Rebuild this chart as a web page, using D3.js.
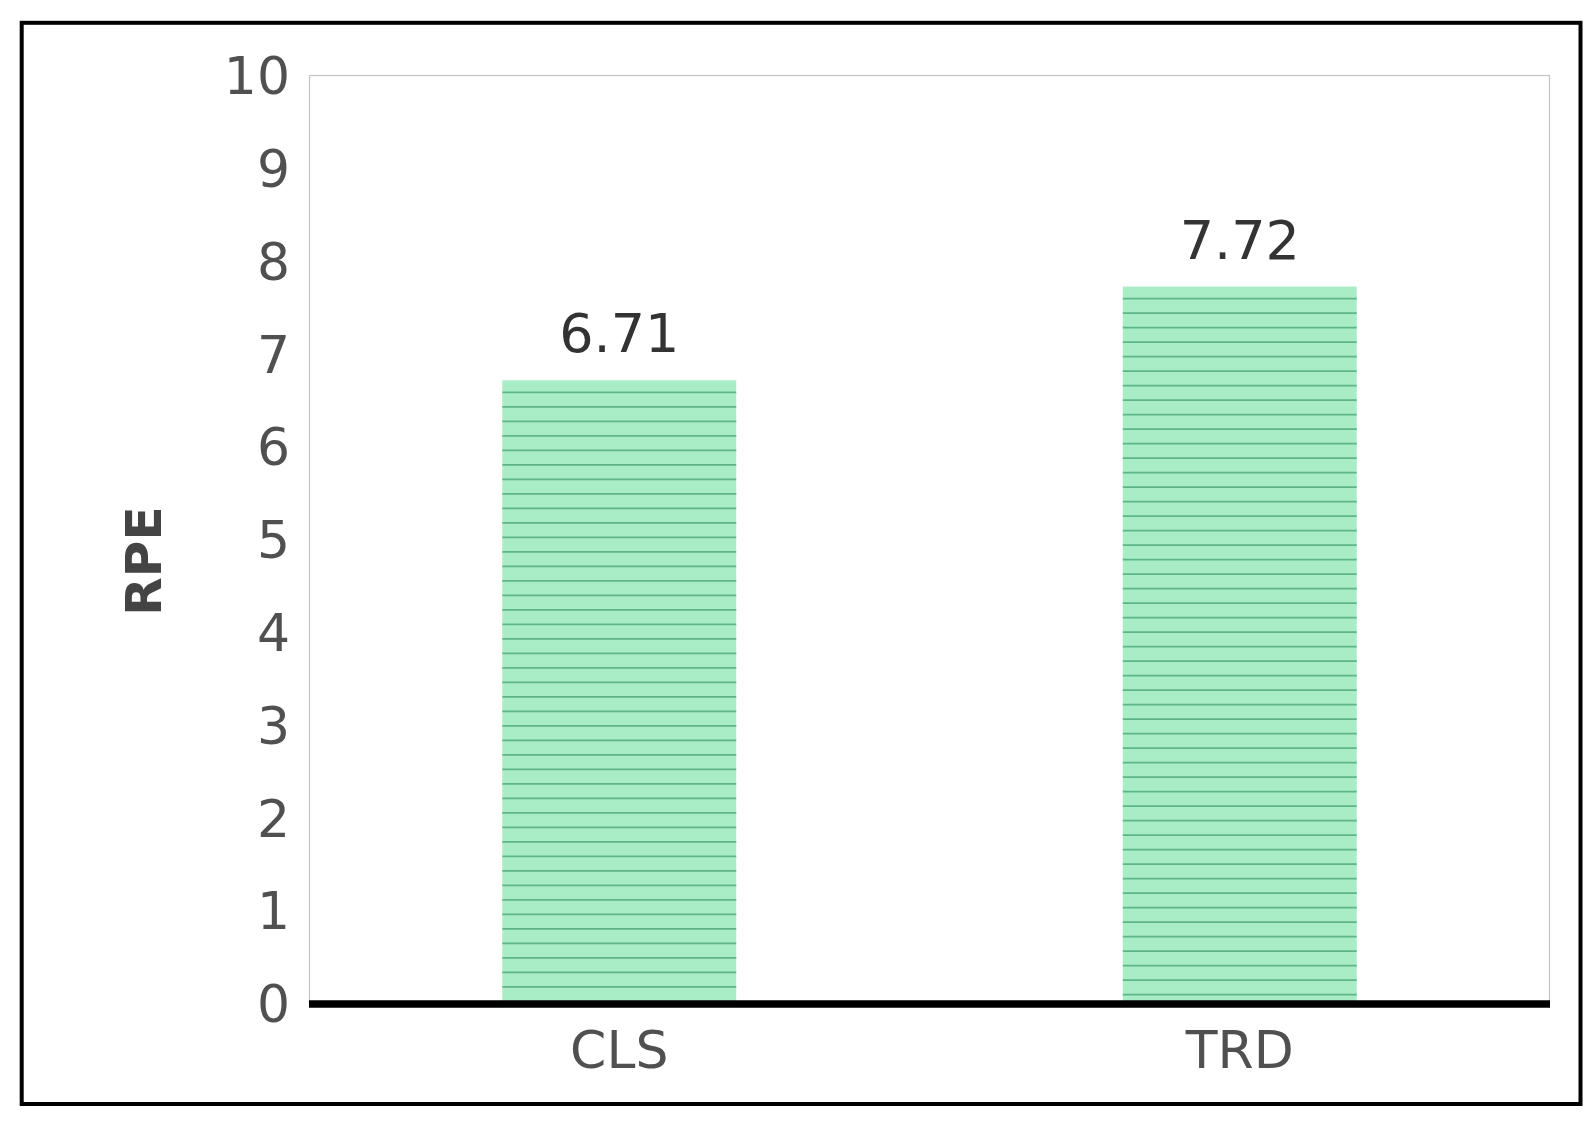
<!DOCTYPE html>
<html>
<head>
<meta charset="utf-8">
<script src="https://cdn.jsdelivr.net/npm/d3@7"></script>
<style>
  html, body { margin: 0; padding: 0; background: #fff; }
  svg { display: block; }
  text { font-family: "DejaVu Sans", sans-serif; }
</style>
</head>
<body>
<svg id="chart" width="1594" height="1125"></svg>
<script>
// ---- data ----
const categories = ["CLS", "TRD"];
const values = [6.71, 7.72];
const valueLabels = ["6.71", "7.72"];
const yTicks = [0, 1, 2, 3, 4, 5, 6, 7, 8, 9, 10];
const yLabel = "RPE";

// ---- layout ----
const plot = { left: 309, right: 1550, top: 75, bottom: 1003 };

const svg = d3.select("#chart");

// outer frame
svg.append("rect")
  .attr("x", 21.7).attr("y", 22.8)
  .attr("width", 1580.5 - 21.7).attr("height", 1104 - 22.8)
  .attr("fill", "none").attr("stroke", "#000").attr("stroke-width", 4);

const x = d3.scaleBand()
  .domain(categories)
  .range([plot.left, plot.right])
  .paddingInner(0.623)
  .paddingOuter(0.3115);

const y = d3.scaleLinear()
  .domain([0, 10])
  .range([plot.bottom, plot.top]);

// plot frame (light gray)
svg.append("rect")
  .attr("x", plot.left + 0.5).attr("y", plot.top + 0.5)
  .attr("width", plot.right - plot.left - 1).attr("height", plot.bottom - plot.top)
  .attr("fill", "none").attr("stroke", "#c4c4c4").attr("stroke-width", 1.2);

// bars
const bars = svg.append("g").selectAll("g")
  .data(categories.map((c, i) => ({ c, v: values[i], label: valueLabels[i] })))
  .join("g");

bars.append("rect")
  .attr("x", d => x(d.c))
  .attr("y", d => y(d.v))
  .attr("width", x.bandwidth())
  .attr("height", d => y(0) - y(d.v))
  .attr("fill", "#a9edc6");

// horizontal hatch lines inside each bar
bars.each(function(d) {
  const g = d3.select(this);
  const top = y(d.v), bottom = y(0);
  const step = 14.5;
  const ys = d3.range(top + 12, bottom - 2, step);
  g.selectAll("line.hatch")
    .data(ys)
    .join("line")
    .attr("class", "hatch")
    .attr("x1", x(d.c)).attr("x2", x(d.c) + x.bandwidth())
    .attr("y1", v => v).attr("y2", v => v)
    .attr("stroke", "#5fb585").attr("stroke-width", 1.8);
});

// value labels
bars.append("text")
  .attr("x", d => x(d.c) + x.bandwidth() / 2)
  .attr("y", d => y(d.v) - 28)
  .attr("text-anchor", "middle")
  .attr("font-size", 54)
  .attr("fill", "#333")
  .text(d => d.label);

// baseline
svg.append("line")
  .attr("x1", plot.left).attr("x2", plot.right)
  .attr("y1", y(0) + 1).attr("y2", y(0) + 1)
  .attr("stroke", "#000").attr("stroke-width", 7.5);

// y axis
const yAxis = d3.axisLeft(y).tickValues(yTicks).tickSize(0).tickPadding(19)
  .tickFormat(d3.format("d"));
const gy = svg.append("g").attr("transform", `translate(${plot.left},0)`).call(yAxis);
gy.select(".domain").remove();
gy.selectAll("text")
  .attr("font-family", "DejaVu Sans, sans-serif")
  .attr("font-size", 52)
  .attr("fill", "#505050")
  .attr("dy", "0.36em");

// x axis
const xAxis = d3.axisBottom(x).tickSize(0).tickPadding(0);
const gx = svg.append("g").attr("transform", `translate(0,${plot.bottom})`).call(xAxis);
gx.select(".domain").remove();
gx.selectAll("text")
  .attr("font-family", "DejaVu Sans, sans-serif")
  .attr("font-size", 52)
  .attr("fill", "#505050")
  .attr("y", 65)
  .attr("dy", "0");

// y label
svg.append("text")
  .attr("transform", `translate(161,561) rotate(-90)`)
  .attr("text-anchor", "middle")
  .attr("font-size", 50)
  .attr("font-weight", "bold")
  .attr("fill", "#444")
  .text(yLabel);
</script>
</body>
</html>
